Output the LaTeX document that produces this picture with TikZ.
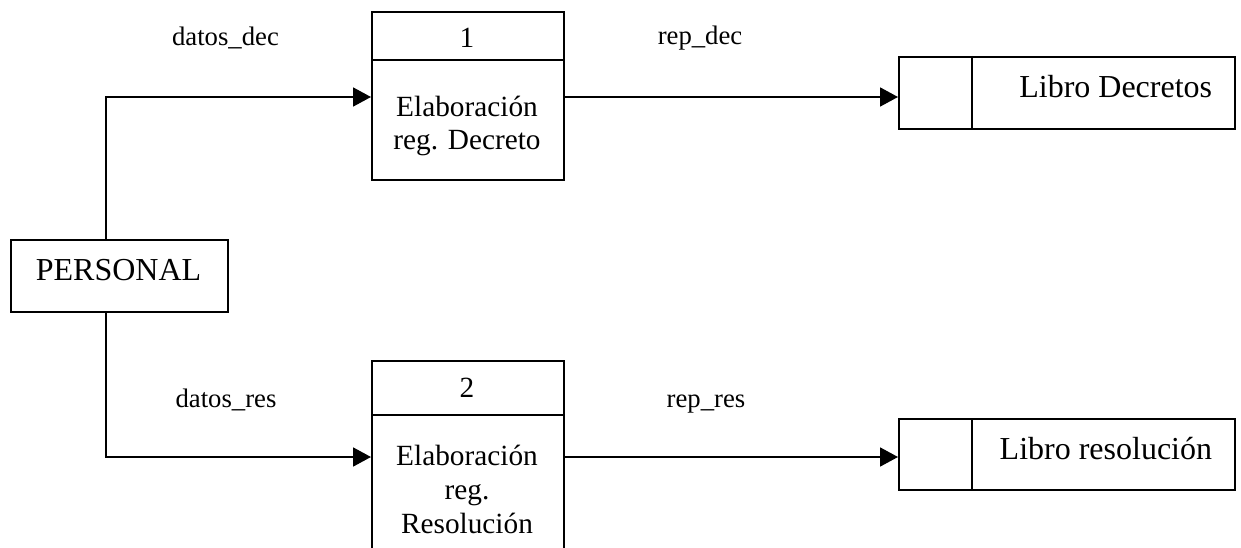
\documentclass[tikz,border=0pt]{standalone}
\usepackage{fontspec}
\setmainfont{Liberation Serif}
\usetikzlibrary{arrows.meta}
\begin{document}
\begin{tikzpicture}[x=1pt,y=-1pt,line width=1.8pt,
  box/.style={draw,inner sep=0pt,anchor=north west},
  flow/.style={-{Triangle[length=18pt,width=19pt]}},
  big/.style={font=\fontsize{32}{38}\selectfont,anchor=base,inner sep=0pt},
  mid/.style={font=\fontsize{29.3}{34}\selectfont,anchor=base,inner sep=0pt},
  lbl/.style={font=\fontsize{26.7}{32}\selectfont,anchor=base,inner sep=0pt}]
\useasboundingbox (0,0) rectangle (1241,548);
\clip (0,0) rectangle (1241,548);
% external entity
\node[box,minimum width=217pt,minimum height=72pt] (personal) at (10,239) {};
\node[big] (personaltxt) at (118.5,280) {PERSONAL};
% process 1
\node[box,minimum width=192pt,minimum height=48pt] (p1h) at (371,11) {};
\node[box,minimum width=192pt,minimum height=120pt] (p1b) at (371,59) {};
\node[mid] (p1n) at (467,48) {1};
\node[mid] (p1l1) at (467,117) {Elaboración};
\node[mid] (p1l2) at (467,150) {reg. Decreto};
% process 2
\node[box,minimum width=192pt,minimum height=54pt] (p2h) at (371,360) {};
\node[box,minimum width=192pt,minimum height=220pt] (p2b) at (371,414) {};
\node[mid] (p2n) at (467,397) {2};
\node[mid] (p2l1) at (467,465) {Elaboración};
\node[mid] (p2l2) at (467,499) {reg.};
\node[mid] (p2l3) at (467,533) {Resolución};
% data stores
\node[box,minimum width=336pt,minimum height=72pt] (s1) at (898,56) {};
\coordinate (d1top) at (972,56);
\coordinate (d1bot) at (972,130);
\draw[line width=1.5pt] (d1top) -- (d1bot);
\node[big,anchor=base east] (s1txt) at (1213,98) {Libro Decretos};
\node[box,minimum width=336pt,minimum height=71pt] (s2) at (898,418) {};
\coordinate (d2top) at (972,418);
\coordinate (d2bot) at (972,491);
\draw[line width=1.5pt] (d2top) -- (d2bot);
\node[big,anchor=base east] (s2txt) at (1213,459) {Libro resolución};
% helper coordinates
\coordinate (xv) at (106,0);
\coordinate (ya) at (0,97);
\coordinate (yb) at (0,457);
% connectors
\draw[flow] (personal.north -| xv) |- (p1b.west |- ya);
\draw[flow] (personal.south -| xv) |- (p2b.west |- yb);
\draw[flow] (p1b.east |- ya) -- (s1.west |- ya);
\draw[flow] (p2b.east |- yb) -- (s2.west |- yb);
% flow labels
\node[lbl] (l1) at (225.5,46) {datos\_dec};
\node[lbl] (l2) at (700,45) {rep\_dec};
\node[lbl] (l3) at (226,407) {datos\_res};
\node[lbl] (l4) at (706,407) {rep\_res};
\end{tikzpicture}
\end{document}
